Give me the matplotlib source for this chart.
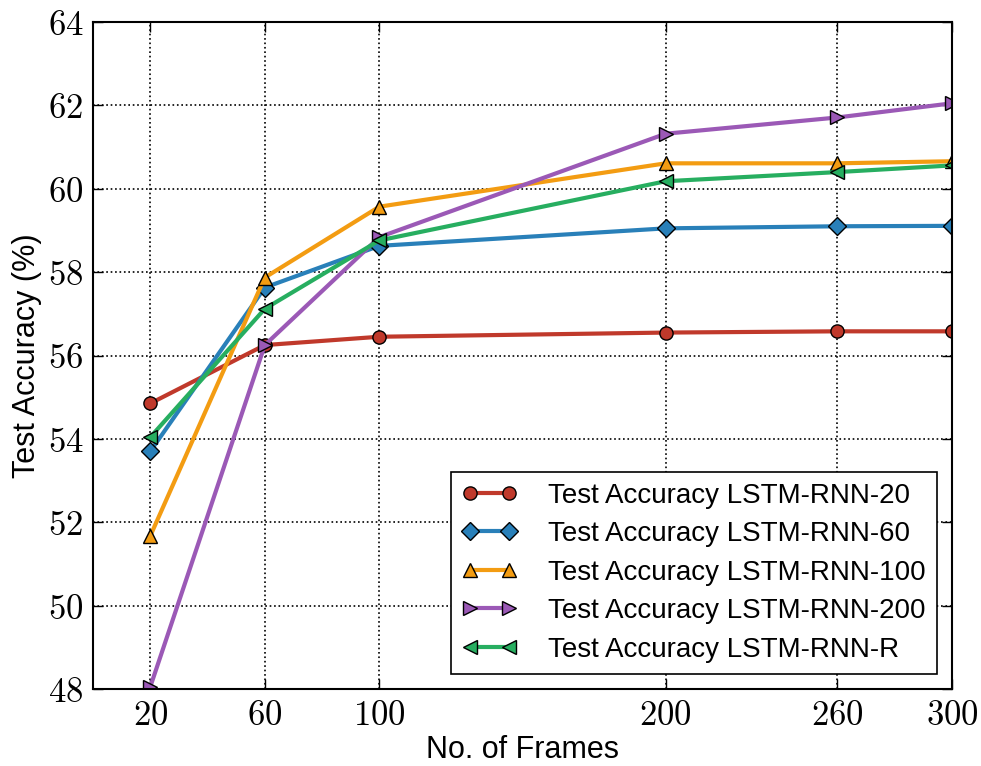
import numpy as np
import matplotlib
matplotlib.use('Agg')
import matplotlib.pyplot as plt
from matplotlib.ticker import FuncFormatter

plt.rcParams['mathtext.fontset'] = 'cm'
plt.rcParams['font.family'] = ['Liberation Sans', 'DejaVu Sans']

frames = [20, 60, 100, 200, 260, 300]
acc_20 = [54.85, 56.25, 56.45, 56.55, 56.58, 56.58]
acc_60 = [53.70, 57.63, 58.63, 59.05, 59.10, 59.11]
acc_100 = [51.67, 57.87, 59.57, 60.61, 60.61, 60.66]
acc_200 = [48.05, 56.25, 58.84, 61.32, 61.71, 62.05]
acc_r = [54.04, 57.12, 58.76, 60.18, 60.40, 60.56]

series = [
    (acc_20, 'Test Accuracy LSTM-RNN-20', '#c0392b', 'o'),
    (acc_60, 'Test Accuracy LSTM-RNN-60', '#2980b9', 'D'),
    (acc_100, 'Test Accuracy LSTM-RNN-100', '#f39c12', '^'),
    (acc_200, 'Test Accuracy LSTM-RNN-200', '#9b59b6', '>'),
    (acc_r, 'Test Accuracy LSTM-RNN-R', '#27ae60', '<'),
]

fig = plt.figure(figsize=(9.81, 7.66), dpi=100)
ax = fig.add_axes([93/981, 1-689/766, (952-93)/981, (689-22)/766])

for vals, label, color, marker in series:
    ax.plot(frames, vals, color=color, marker=marker, lw=3, ms=9.5,
            mec='black', mew=1, label=label)

ax.set_xlim(0, 300)
ax.set_ylim(48, 64)
ax.set_xticks(frames)
ax.set_yticks(np.arange(48, 65, 2))
fmt = FuncFormatter(lambda v, p: r'$%d$' % v)
ax.xaxis.set_major_formatter(fmt)
ax.yaxis.set_major_formatter(fmt)
ax.tick_params(direction='in', top=True, right=True, length=7, width=1,
               labelsize=25, pad=7)
ax.grid(True, color='black', linestyle=':', linewidth=1.2)
for s in ax.spines.values():
    s.set_linewidth(1.5)

ax.set_xlabel('No. of Frames', fontsize=22, labelpad=2)
ax.set_ylabel('Test Accuracy (%)', fontsize=22, labelpad=4)

leg = ax.legend(loc='lower right', fontsize=20, numpoints=2, fancybox=False,
                framealpha=1, edgecolor='black', handlelength=2.0,
                labelspacing=0.45, borderaxespad=0.55, handletextpad=1.1)
leg.get_frame().set_linewidth(1.2)

fig.savefig('out.png', dpi=100)
